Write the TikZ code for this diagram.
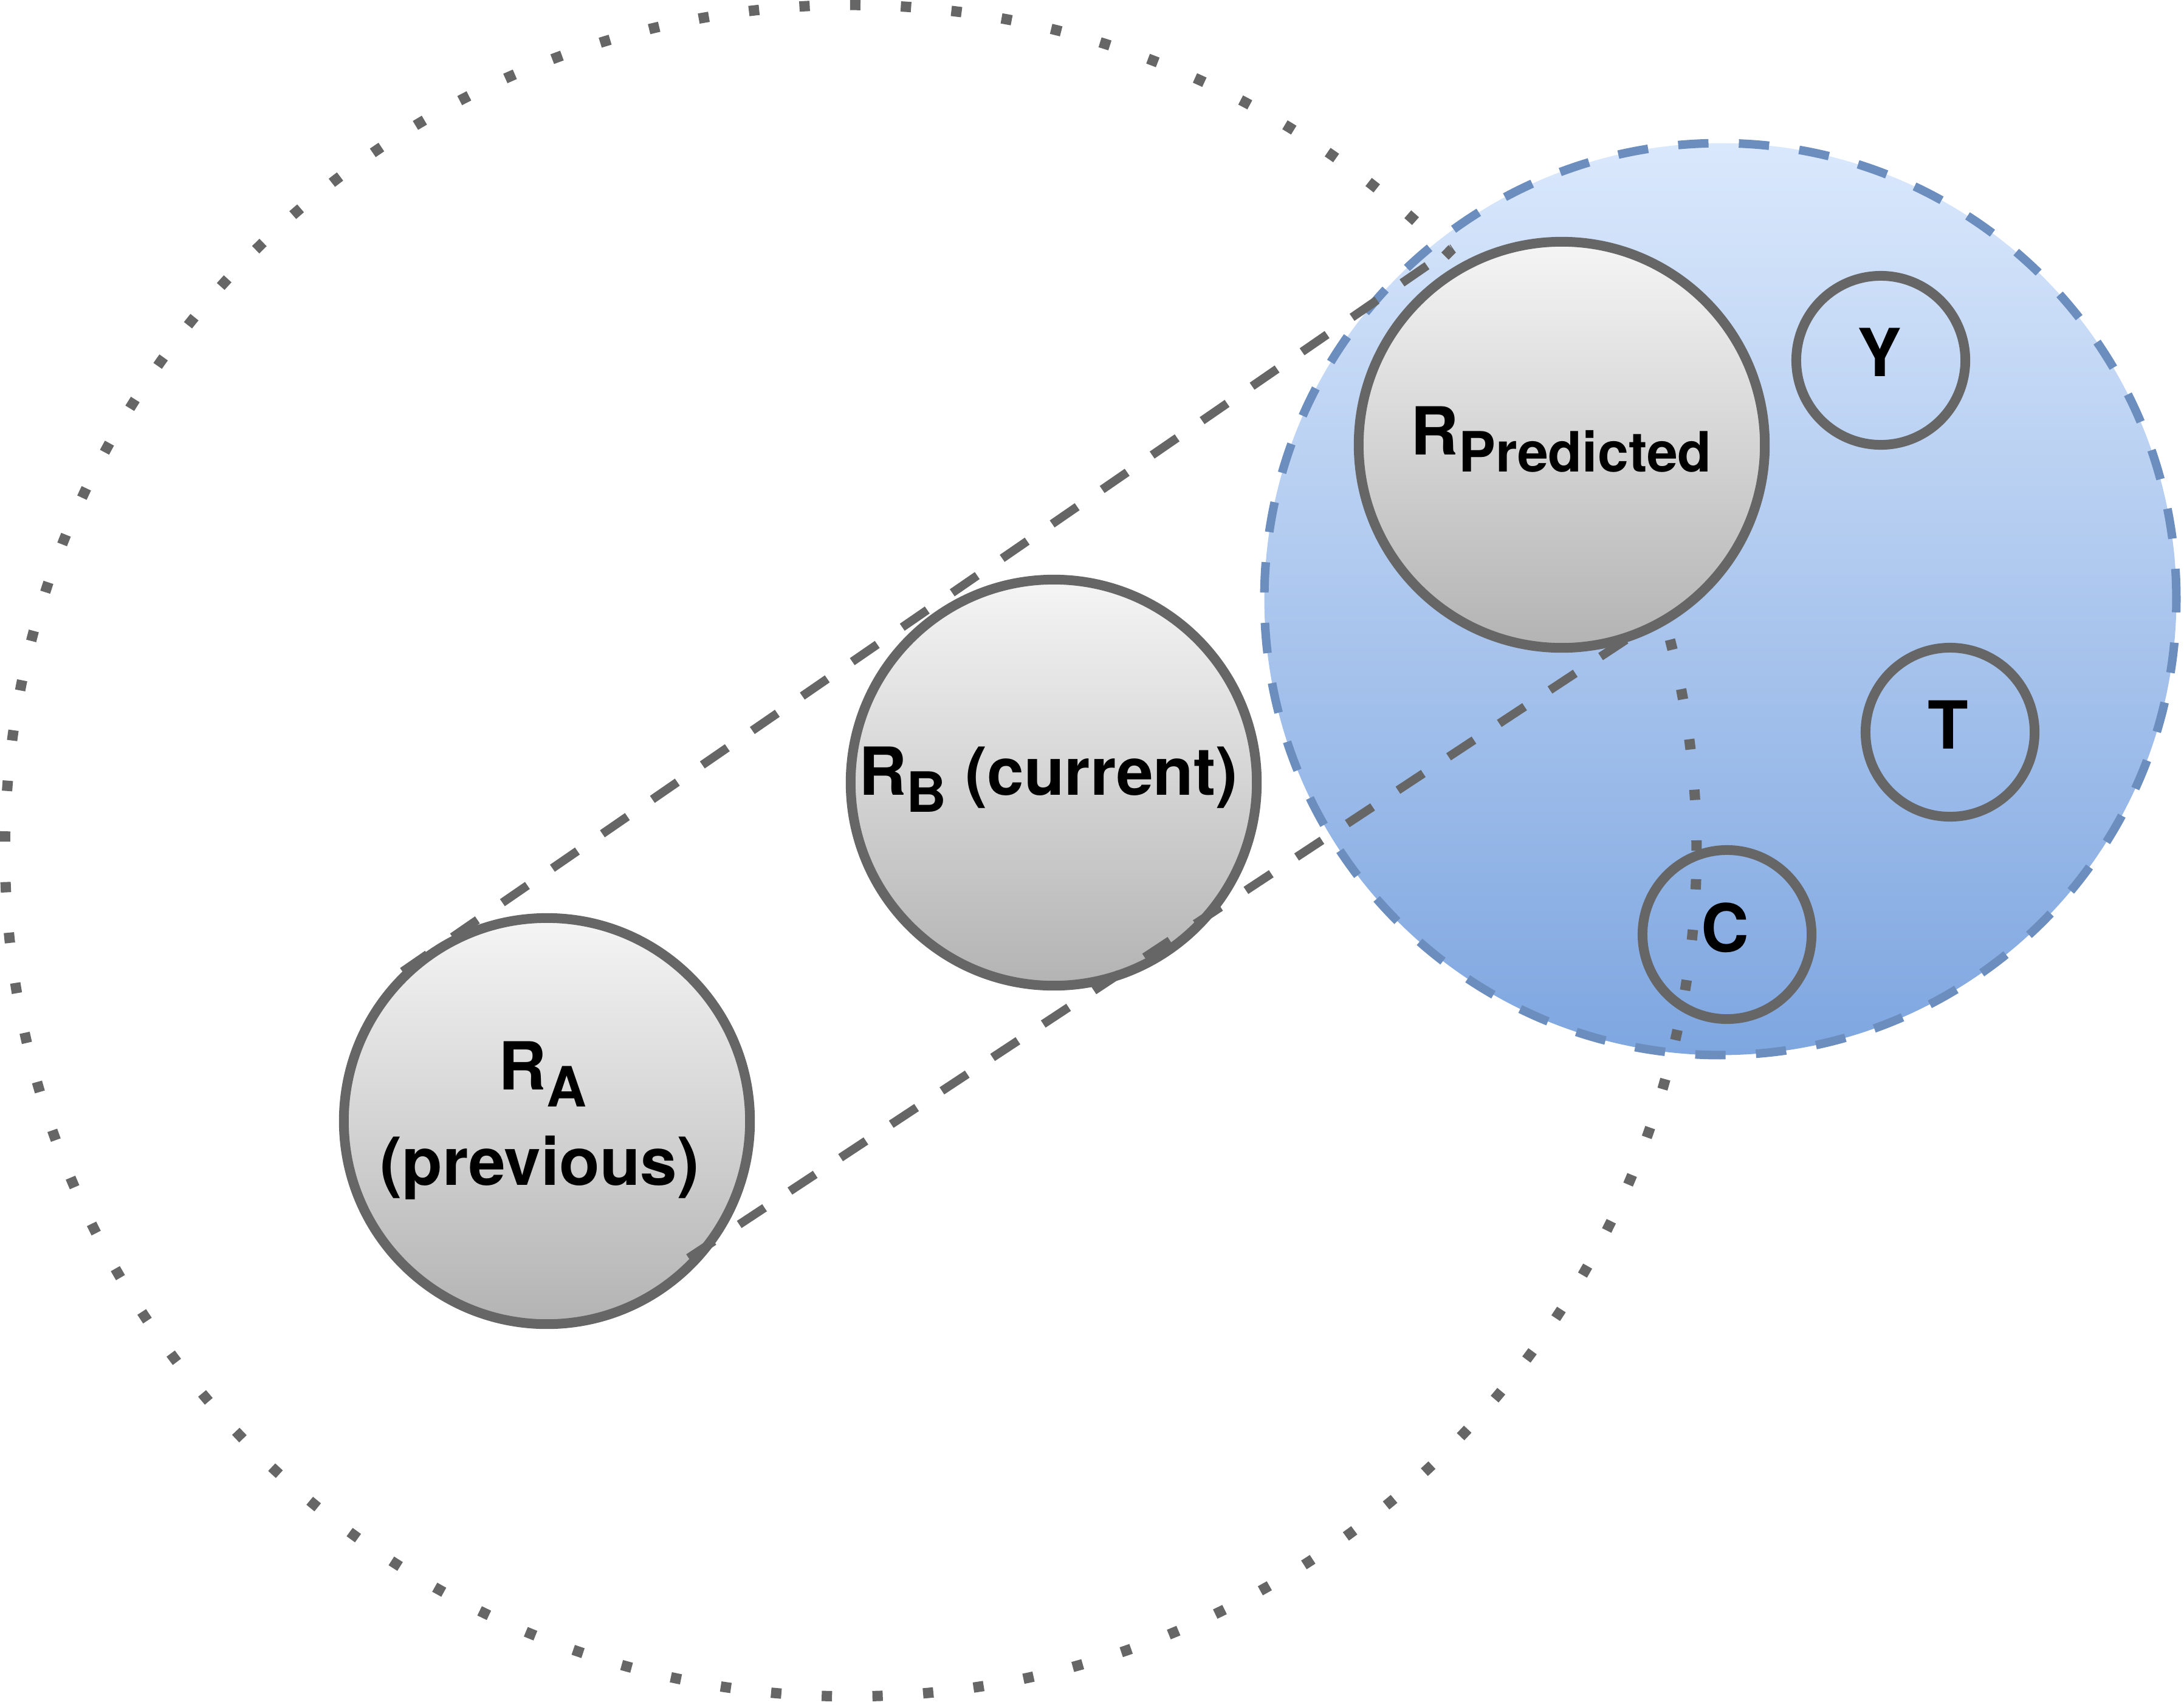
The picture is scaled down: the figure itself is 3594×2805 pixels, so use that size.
\documentclass[tikz,border=0pt]{standalone}
\usepackage{fontspec}
\setmainfont{TeX Gyre Heros}
\usetikzlibrary{calc}
\definecolor{gstroke}{HTML}{666666}
\definecolor{gtop}{HTML}{F5F5F5}
\definecolor{gbot}{HTML}{B3B3B3}
\definecolor{btop}{HTML}{DAE8FC}
\definecolor{bbot}{HTML}{7EA6E0}
\definecolor{bstroke}{HTML}{6C8EBF}
\newcommand{\lblfont}{\fontsize{31}{37}\selectfont\bfseries}
\newcommand{\subx}[1]{\raisebox{-8pt}{\fontsize{26}{30}\selectfont #1}}
\begin{document}
\begin{tikzpicture}[x=0.01cm,y=-0.01cm,
  bigc/.style={circle, draw=gstroke, line width=4.55pt, top color=gtop, bottom color=gbot, minimum size=6.68cm, inner sep=0pt},
  smallc/.style={circle, draw=gstroke, line width=4.55pt, minimum size=2.78cm, inner sep=0pt},
  tube/.style={draw=gstroke, line width=4pt, dash pattern=on 14.2pt off 14.2pt},
  txt/.style={anchor=base, inner sep=0pt, font=\lblfont, text=black}]
\useasboundingbox (0,0) rectangle (3594,2805);
% predicted region
\node[circle, minimum size=15cm, inner sep=0pt, top color=btop, bottom color=bbot,
      draw=bstroke, line width=4pt, dash pattern=on 14.2pt off 14.2pt] (pred) at (2831,986) {};
% outer dotted circle
\node[circle, minimum size=27.82cm, inner sep=0pt, draw=gstroke, line width=4.84pt,
      dash pattern=on 4.84pt off 18.9pt] (outer) at (1400,1400) {};
% main circles
\node[bigc] (RA) at (900,1845) {};
\node[bigc] (RB) at (1734,1288) {};
\node[bigc] (RP) at (2570,732) {};
% small circles
\node[smallc] (Y) at (3095,593) {};
\node[smallc] (T) at (3209,1205) {};
\node[smallc] (C) at (2842,1538) {};
% tube lines
\draw[tube] (RA.134.4) -- ($(RP.center)!1.082!(RP.119.5)$);
\draw[tube] ($(RA.center)!0.947!(RA.-44.7)$) -- ($(RP.center)!0.98!(RP.-70.3)$);
% labels
\node[txt] (RAt1) at (893,1793) {R\subx{A}};
\node[txt] (RAt2) at (888,1950) {(previous)};
\node[txt] (RBt) at (1725,1308) {R\subx{B} (current)};
\node[txt] (RPt) at (2569,748) {R\subx{Predicted}};
\node[txt] (Yt) at (3093,619) {Y};
\node[txt] (Tt) at (3206,1232) {T};
\node[txt] (Ct) at (2839,1566) {C};
\end{tikzpicture}
\end{document}
